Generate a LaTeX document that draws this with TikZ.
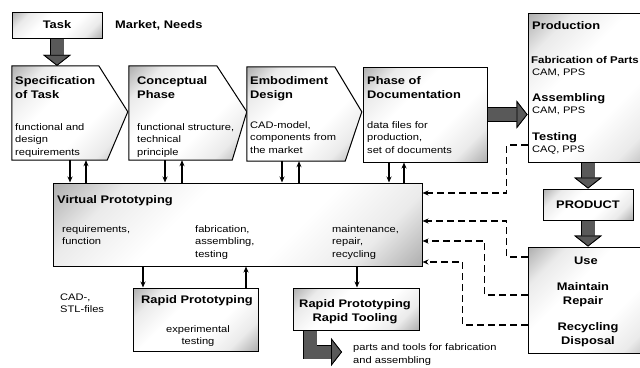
\documentclass[tikz,border=0pt]{standalone}
\usepackage{fontspec}
\setmainfont{Liberation Sans}[FakeStretch=1.17]
\usetikzlibrary{arrows.meta}

\pgfdeclarehorizontalshading{corners}{100bp}{color(0bp)=(black!62); color(26bp)=(black!8); color(40bp)=(white); color(60bp)=(white); color(74bp)=(black!8); color(100bp)=(black!62)}

\tikzstyle{box}=[draw, line width=1pt, shade, shading=corners, shading angle=-45, inner sep=0pt]
\tikzstyle{phase}=[inner sep=0pt]
\tikzstyle{head}=[font=\fontsize{11}{14}\selectfont\bfseries, inner sep=0pt, anchor=base west, align=left]
\tikzstyle{txt}=[font=\fontsize{9.5}{12.5}\selectfont, inner sep=0pt, anchor=base west, align=left]
\tikzstyle{arr}=[line width=1.2pt, -{Stealth[length=6pt,width=5pt]}]
\tikzstyle{feedback}=[line width=1.2pt, dash pattern=on 7pt off 4pt, -{Stealth[length=6pt,width=5pt]}]
\tikzstyle{big}=[line width=13pt, draw=black!65, -{Triangle[width=28pt 0,length=11pt 0,fill=black!65,color=black,line width=0.8pt]}, preaction={draw=black, line width=14.6pt}]

\begin{document}
\begin{tikzpicture}[x=1pt, y=-1pt]
        \useasboundingbox (0,0) rectangle (640,367);
        \clip (0,0) rectangle (640,367);

        \node[box, minimum width=90, minimum height=26, font=\fontsize{11}{14}\selectfont\bfseries](task) at (57, 25) {Task};
        \node[head](market) at (115, 28) {Market, Needs};

        \node[phase, minimum width=95, minimum height=94](spec) at (59.5, 113) {};
        \node[phase, minimum width=103, minimum height=94](concept) at (180.5, 113) {};
        \node[phase, minimum width=98, minimum height=94](embodiment) at (296, 114) {};
        \draw[box] (spec.north west) -- ++(87, 0) -- ++(29, 46) -- (spec.south east) -- (spec.south west) -- cycle;
        \draw[box] (concept.north west) -- ++(88, 0) -- ++(30, 46) -- (concept.south east) -- (concept.south west) -- cycle;
        \draw[box] (embodiment.north west) -- ++(88, 0) -- ++(27, 45) -- (embodiment.south east) -- (embodiment.south west) -- cycle;
        \node[box, minimum width=124, minimum height=95](doc) at (425, 114.5) {};

        \node[box, minimum width=132, minimum height=149](prod) at (594, 87.5) {};
        \node[box, minimum width=90, minimum height=31, font=\fontsize{11}{14}\selectfont\bfseries](product) at (588, 204.5) {PRODUCT};
        \node[box, minimum width=132, minimum height=106](use) at (594, 300) {};

        \node[box, minimum width=369, minimum height=83](vp) at (237.5, 224.5) {};
        \node[box, minimum width=125, minimum height=63](rp) at (195.5, 319.5) {};
        \node[box, minimum width=126, minimum height=42](rt) at (356, 309) {};
        \coordinate (out) at (342, 352);

        \node[head](spec title) at (15, 98) {Specification\\of Task};
        \node[txt](spec text) at (15, 155) {functional and\\design\\requirements};
        \node[head](concept title) at (137, 98) {Conceptual\\Phase};
        \node[txt](concept text) at (137, 155) {functional structure,\\technical\\principle};
        \node[head](embodiment title) at (250, 98) {Embodiment\\Design};
        \node[txt](embodiment text) at (250, 153) {CAD-model,\\components from\\the market};
        \node[head](doc title) at (367, 98) {Phase of\\Documentation};
        \node[txt](doc text) at (367, 153) {data files for\\production,\\set of documents};

        \node[head](prod title) at (532, 29) {Production};
        \node[head, font=\fontsize{9.8}{12}\selectfont\bfseries](fabrication) at (531, 63) {Fabrication of Parts};
        \node[txt](fabrication tools) at (532, 75) {CAM, PPS};
        \node[head](assembling) at (532, 101) {Assembling};
        \node[txt](assembling tools) at (532, 113) {CAM, PPS};
        \node[head](testing) at (532, 140) {Testing};
        \node[txt](testing tools) at (532, 152) {CAQ, PPS};

        \node[head, anchor=base, align=center](use title) at (586, 264) {Use};
        \node[head, anchor=base, align=center](maintain) at (583, 304) {Maintain\\Repair};
        \node[head, anchor=base, align=center](recycling) at (588, 344) {Recycling\\Disposal};

        \node[head](vp title) at (57, 203) {Virtual Prototyping};
        \node[txt](vp req) at (62, 244.5) {requirements,\\function};
        \node[txt](vp fab) at (195, 257) {fabrication,\\assembling,\\testing};
        \node[txt](vp main) at (332, 257) {maintenance,\\repair,\\recycling};

        \node[head](rp title) at (141, 303) {Rapid Prototyping};
        \node[txt, anchor=base, align=center](rp text) at (198, 344.5) {experimental\\testing};
        \node[head, anchor=base, align=center](rt title) at (355, 321) {Rapid Prototyping\\Rapid Tooling};
        \node[txt](cad) at (60, 312.5) {CAD-,\\STL-files};
        \node[txt](parts) at (353, 363) {parts and tools for fabrication\\and assembling};

        \begin{scope}[every node/.style={inner sep=1pt}]
            \draw[big] (task.south) -- (task.south |- spec.north);
            \draw[big] (doc.east) -- (doc.east -| prod.west);
            \draw[big] (prod.south -| product.north) -- (product.north);
            \draw[big] (product.south) -- (product.south |- use.north);
            \draw[big] ([xshift=-46]rt.south) |- (out);

            \draw[arr] ([xshift=10.5]spec.south) -- ([xshift=10.5]spec.south |- vp.north);
            \draw[arr] ([xshift=26.5]spec.south |- vp.north) -- ([xshift=26.5]spec.south);
            \draw[arr] ([xshift=-15.5]concept.south) -- ([xshift=-15.5]concept.south |- vp.north);
            \draw[arr] ([xshift=1.5]concept.south |- vp.north) -- ([xshift=1.5]concept.south);
            \draw[arr] ([xshift=-14]embodiment.south) -- ([xshift=-14]embodiment.south |- vp.north);
            \draw[arr] ([xshift=3]embodiment.south |- vp.north) -- ([xshift=3]embodiment.south);
            \draw[arr] ([xshift=-36]doc.south) -- ([xshift=-36]doc.south |- vp.north);
            \draw[arr] ([xshift=-21]doc.south |- vp.north) -- ([xshift=-21]doc.south);

            \draw[arr] ([xshift=-52.5]rp.north |- vp.south) -- ([xshift=-52.5]rp.north);
            \draw[arr] ([xshift=50.5]rp.north) -- ([xshift=50.5]rp.north |- vp.south);
            \draw[arr] ([xshift=1]rt.north |- vp.south) -- ([xshift=1]rt.north);

            \draw[feedback] ([yshift=-57.5]prod.west) -- ++(-21, 0) |- ([yshift=31.5]vp.east);
            \draw[feedback] ([yshift=43]use.west) -- ++(-21, 0) |- ([yshift=3.5]vp.east);
            \draw[feedback] ([yshift=5]use.west) -- ++(-43, 0) |- ([yshift=-16.5]vp.east);
            \draw[feedback] ([yshift=-25]use.west) -- ++(-65, 0) |- ([yshift=-37.5]vp.east);
        \end{scope}
    \end{tikzpicture}
\end{document}
